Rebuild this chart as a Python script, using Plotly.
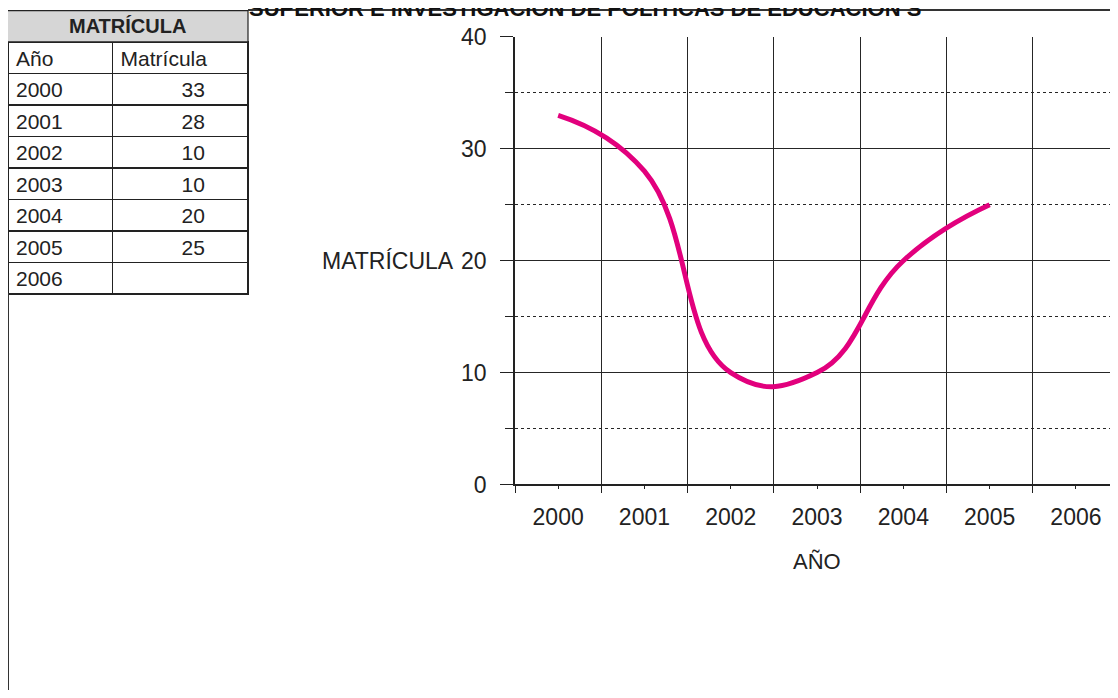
import plotly.graph_objects as go

years = ["2000", "2001", "2002", "2003", "2004", "2005", "2006"]
matricula = [33, 28, 10, 10, 20, 25, None]
table_years = years
table_values = ["33", "28", "10", "10", "20", "25", ""]

W, H = 1102, 682
# measured: screenshot x = 8 + fig_x, screenshot y = 20 + 0.965 * fig_y
X0, Y0, SY = 8, 20, 0.965
FONT = "Liberation Sans, Arial, sans-serif"
MAGENTA = "#E2007D"
GRID = "#262626"
INK = "#222"


def px_x(p):
    return (p - X0) / W


def px_y(p):
    return 1 - (p - Y0) / SY / H


def clamp(v):
    return min(max(v, 0), 1)


fig = go.Figure()

fig.add_trace(go.Scatter(
    x=years, y=matricula, mode="lines",
    line=dict(color=MAGENTA, width=5, shape="spline", smoothing=1.3),
    connectgaps=False, showlegend=False, hoverinfo="x+y",
))
# invisible copy so the centre-tick axis gets drawn
fig.add_trace(go.Scatter(
    x=years, y=matricula, mode="lines", xaxis="x2",
    line=dict(color="rgba(0,0,0,0)", width=0), showlegend=False, hoverinfo="skip",
))

# spreadsheet block at top left
row_h = 31.5
fig.add_trace(go.Table(
    domain=dict(x=[clamp(px_x(7)), px_x(248)], y=[0, px_y(41)]),
    columnwidth=[105, 136],
    header=dict(values=["Año", "Matrícula"], fill_color="white",
                line=dict(color=INK, width=1.2), align=["left", "left"],
                font=dict(family=FONT, size=21, color=INK), height=row_h),
    cells=dict(values=[table_years, [v + "\u2007\u2007\u2007" for v in table_values]],
               fill_color="white",
               line=dict(color=INK, width=1.2), align=["left", "right"],
               font=dict(family=FONT, size=21, color=INK), height=row_h),
))

cat_w = 86.3  # px per category in the reference
x_range = [-0.5, -0.5 + (1110 - 515) / cat_w]

fig.update_layout(
    width=W, height=H,
    margin=dict(l=0, r=0, t=0, b=0),
    paper_bgcolor="white", plot_bgcolor="white",
    font=dict(family=FONT, size=23, color=INK),
    showlegend=False,
    xaxis=dict(
        domain=[px_x(515), 1.0], type="category",
        categoryorder="array", categoryarray=years, range=x_range,
        tickson="boundaries", ticks="outside", ticklen=7, tickcolor=INK,
        showgrid=True, gridcolor=GRID, gridwidth=1.4,
        showline=True, linecolor=INK, linewidth=1.6,
        tickfont=dict(size=23), ticklabelstandoff=11,
        zeroline=False, fixedrange=True,
    ),
    xaxis2=dict(
        domain=[px_x(515), 1.0], type="category", overlaying="x", anchor="y",
        categoryorder="array", categoryarray=years, range=x_range,
        ticks="outside", ticklen=4, tickcolor=INK, showticklabels=False,
        showgrid=False, showline=False, zeroline=False, fixedrange=True,
    ),
    yaxis=dict(
        domain=[px_y(485), px_y(36)], range=[0, 40],
        tick0=0, dtick=10, ticks="outside", ticklen=13, tickcolor=INK,
        showgrid=True, gridcolor=GRID, gridwidth=1.4,
        minor=dict(dtick=5, ticks="outside", ticklen=8, tickcolor=INK,
                   showgrid=True, gridcolor=GRID, griddash="dot", gridwidth=1.2),
        showline=True, linecolor=INK, linewidth=1.6,
        tickfont=dict(size=23), ticklabelstandoff=9,
        zeroline=False, fixedrange=True,
    ),
)

# gray title band of the spreadsheet block
fig.add_shape(type="rect", xref="paper", yref="paper",
              x0=px_x(7), x1=px_x(248), y0=px_y(41), y1=px_y(9.5),
              fillcolor="#d6d6d6", line=dict(color=INK, width=1.2))
fig.add_annotation(text="<b>MATRÍCULA</b>", xref="paper", yref="paper",
                   x=(px_x(7) + px_x(248)) / 2, y=px_y(25), xanchor="center",
                   yanchor="middle", showarrow=False,
                   font=dict(size=20, color=INK))

# chart area border (top and left edges visible)
fig.add_shape(type="line", xref="paper", yref="paper",
              x0=px_x(248), x1=1.0, y0=px_y(9), y1=px_y(9),
              line=dict(color="#333", width=2))
fig.add_shape(type="line", xref="paper", yref="paper",
              x0=px_x(8), x1=px_x(8), y0=px_y(293), y1=px_y(698),
              line=dict(color="#333", width=2))

# clipped chart title
fig.add_annotation(text="<b>SUPERIOR E INVESTIGACIÓN DE POLÍTICAS DE EDUCACIÓN S</b>",
                   xref="paper", yref="paper", x=px_x(247), y=px_y(22),
                   xanchor="left", yanchor="bottom", showarrow=False,
                   font=dict(size=22, color="#111"))

# axis titles
fig.add_annotation(text="MATRÍCULA", xref="paper", yref="y", x=px_x(456), y=20,
                   xanchor="right", yanchor="middle", showarrow=False,
                   font=dict(size=23, color=INK))
fig.add_annotation(text="AÑO", xref="paper", yref="paper", x=px_x(817), y=px_y(562),
                   xanchor="center", yanchor="middle", showarrow=False,
                   font=dict(size=22, color=INK))

fig.write_html("out.html")
